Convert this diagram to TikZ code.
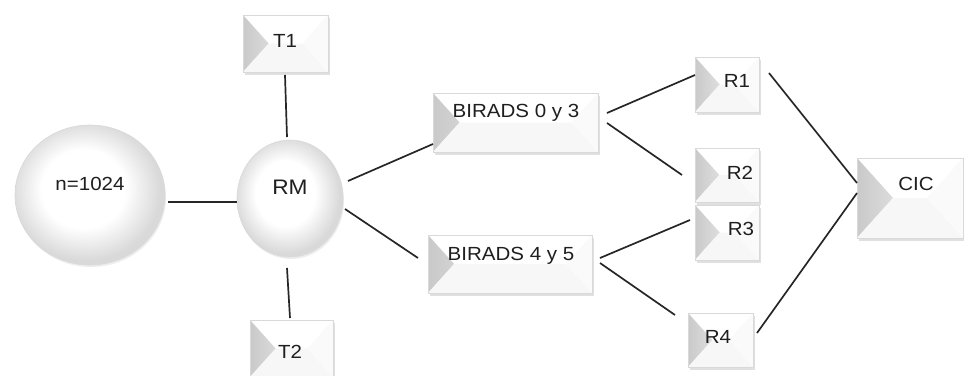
\documentclass[tikz,border=0pt]{standalone}
\usepackage{fontspec}
\setmainfont{Liberation Sans}
\newfontfamily\labfont[FakeStretch=1.08]{Liberation Sans}
\usetikzlibrary{calc,shapes.geometric,shadows}
\pgfdeclareradialshading{softball}{\pgfpoint{-3bp}{3bp}}{color(0bp)=(white); color(14bp)=(white); color(25bp)=(black!15); color(50bp)=(black!15)}
\tikzset{
  lbl/.style={font=\labfont\fontsize{19}{22}\selectfont, text=black!88, inner sep=0pt},
  bigl/.style={font=\labfont\fontsize{21}{24}\selectfont, text=black!88, inner sep=0pt},
  bevelbox/.style={rectangle, draw=gray!30, line width=0.6pt, fill=white, inner sep=0pt,
    drop shadow={shadow xshift=1.5pt, shadow yshift=-3pt, opacity=0.3, fill=gray!80},
    path picture={
      \path let \p1=(path picture bounding box.north west),
                \p2=(path picture bounding box.south east),
                \n1={0.45*(\y1-\y2)}, \n2={0.5*(\y1+\y2)} in
        [left color=gray!42, right color=white]
        (\x1,\y1) -- (\x1+\n1,\n2) -- (\x1,\y2) -- cycle;
      \path let \p1=(path picture bounding box.north west),
                \p2=(path picture bounding box.south east),
                \n1={0.45*(\y1-\y2)}, \n2={0.5*(\y1+\y2)} in
        [fill=gray!6]
        (\x1,\y2) -- (\x1+\n1,\n2) -- (\x2-\n1,\n2) -- (\x2,\y2) -- cycle;
      \path let \p1=(path picture bounding box.north west),
                \p2=(path picture bounding box.south east),
                \n1={0.45*(\y1-\y2)}, \n2={0.5*(\y1+\y2)} in
        [fill=gray!4]
        (\x2,\y1) -- (\x2-\n1,\n2) -- (\x2,\y2) -- cycle;
    }},
  ballnode/.style={ellipse, draw=gray!30, line width=0.6pt, shading=softball,
    drop shadow={shadow xshift=1pt, shadow yshift=-2pt, opacity=0.18, fill=gray!80}},
  conn/.style={draw=black!85, line width=1.7pt}
}
\begin{document}
\begin{tikzpicture}[x=1pt, y=-1pt]
\useasboundingbox (0,0) rectangle (964,375);
% circles
\node[ballnode, minimum width=150pt, minimum height=140pt] (N) at (90,195) {};
\node[ballnode, minimum width=106pt, minimum height=117pt] (RM) at (290,198.5) {};
% boxes
\node[bevelbox, minimum width=85pt, minimum height=57pt] (T1) at (285.5,43.5) {};
\node[bevelbox, minimum width=83pt, minimum height=57pt] (T2) at (291.5,348.5) {};
\node[bevelbox, minimum width=165pt, minimum height=59pt] (B0) at (515.5,122.5) {};
\node[bevelbox, minimum width=164pt, minimum height=58pt] (B4) at (510,264) {};
\node[bevelbox, minimum width=64pt, minimum height=55pt] (R1) at (727,84.5) {};
\node[bevelbox, minimum width=64pt, minimum height=54pt] (R2) at (727,175) {};
\node[bevelbox, minimum width=64pt, minimum height=55pt] (R3) at (727,232.5) {};
\node[bevelbox, minimum width=65pt, minimum height=54pt] (R4) at (720.5,340) {};
\node[bevelbox, minimum width=106pt, minimum height=80pt] (CIC) at (910,198) {};
% labels
\node[lbl] (tN) at (90,184) {n=1024};
\node[bigl] (tRM) at (290,187) {RM};
\node[lbl] (tT1) at (285,41) {T1};
\node[lbl] (tT2) at (290,352) {T2};
\node[lbl] (tB0) at (516,113) {BIRADS 0 y 3};
\node[lbl] (tB4) at (511,256) {BIRADS 4 y 5};
\node[lbl] (tR1) at (737,81) {R1};
\node[lbl] (tR2) at (740,173) {R2};
\node[lbl] (tR3) at (741,229) {R3};
\node[lbl] (tR4) at (718,337) {R4};
\node[lbl] (tCIC) at (916,184) {CIC};
% connectors
\draw[conn] ($(N)+(78,7)$) -- ($(RM)+(-53,3.5)$);
\draw[conn] ($(T1)+(-0.5,31.5)$) -- ($(RM)+(-3,-61.5)$);
\draw[conn] ($(RM)+(-3,69.5)$) -- ($(T2)+(-1.5,-30.5)$);
\draw[conn] ($(RM)+(58,-17.5)$) -- ($(B0)+(-82.5,21.5)$);
\draw[conn] ($(RM)+(55,10.5)$) -- ($(B4)+(-92,-6)$);
\draw[conn] ($(B0)+(91.5,-9.5)$) -- ($(R1)+(-32,-9.5)$);
\draw[conn] ($(B0)+(91.5,0.5)$) -- ($(R2)+(-45,0)$);
\draw[conn] ($(B4)+(90,-6)$) -- ($(R3)+(-37,-12.5)$);
\draw[conn] ($(B4)+(90,-1)$) -- ($(R4)+(-45.5,-25)$);
\draw[conn] ($(R1)+(42,-11.5)$) -- ($(CIC)+(-53,-15)$);
\draw[conn] ($(R4)+(36.5,-7)$) -- ($(CIC)+(-53,-5)$);
\end{tikzpicture}
\end{document}
